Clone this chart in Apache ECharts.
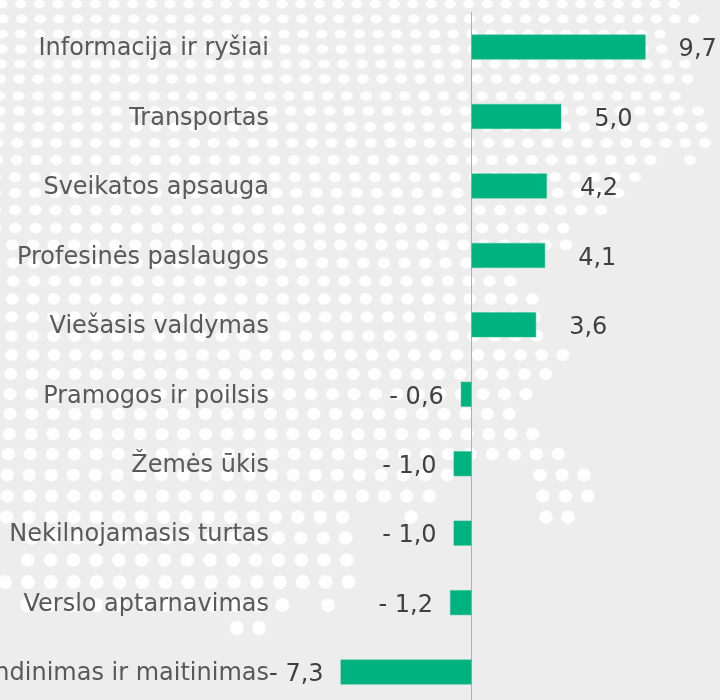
<!DOCTYPE html>
<html>
<head>
<meta charset="utf-8">
<style>
html, body { margin: 0; padding: 0; background: #ededed; }
#container { width: 720px; height: 700px; }
</style>
<script src="https://cdn.jsdelivr.net/npm/echarts@6/dist/echarts.min.js"></script>
</head>
<body>
<div id="container"></div>
<script>
var categories = ['Informacija ir ryšiai', 'Transportas', 'Sveikatos apsauga', 'Profesinės paslaugos', 'Viešasis valdymas', 'Pramogos ir poilsis', 'Žemės ūkis', 'Nekilnojamasis turtas', 'Verslo aptarnavimas', 'Apgyvendinimas ir maitinimas'];
var values = [9.7, 5.0, 4.2, 4.1, 3.6, -0.6, -1.0, -1.0, -1.2, -7.3];

// fono taskai (dekoracija): y, pirmas x, zingsnis, paskutinis x
var dotRows = [
    [4, 2, 18.67, 692], [19, 3, 18.67, 695], [34, 2, 18.8, 662], [49, 2, 18.85, 665],
    [64, 1, 19, 688], [79, 0, 19.1, 690], [96, -0.5, 19.3, 675], [111, -0.3, 19.4, 716],
    [127, -0.5, 19.5, 702], [143, -2.5, 19.65, 707], [160, -3, 19.8, 655], [160, 690, 20, 690],
    [177, -5, 20, 653], [193, -5, 20.1, 637], [210, -5, 20.2, 620], [228, -5, 20.3, 563],
    [245, -8, 20.5, 567], [263, -7.5, 20.6, 540], [281, -7.4, 20.7, 530], [299, -8.5, 20.8, 534],
    [317, -9.2, 20.9, 535], [336, -9.3, 21, 541], [355, -9.5, 21.2, 564], [374, -10.7, 21.4, 546],
    [394, -11.5, 21.5, 527], [414, -11.7, 21.7, 530], [434, -12.5, 21.8, 534], [454, -13.7, 22, 559],
    [475, -14.7, 22, 452], [475, 540, 22, 584], [496, -15, 22.2, 432], [496, 543, 22.4, 588],
    [517, -15.7, 22.4, 350], [517, 411, 22, 411], [517, 546, 22, 568], [538, 32, 22.4, 346],
    [560, 27.7, 22.8, 348], [582, 5, 22.9, 350], [605, 27, 23.2, 283], [605, 328, 23, 328],
    [628, 237, 22, 259]
];

function buildDots() {
    var dots = [];
    for (var i = 0; i < dotRows.length; i++) {
        var r = dotRows[i];
        var ry = 4.3 + r[0] / 220;
        var rx = 5.8 + r[0] / 550;
        for (var x = r[1]; x <= r[3] + 0.5; x += r[2]) {
            dots.push({
                type: 'ellipse',
                silent: true,
                z: -1,
                shape: { cx: x, cy: r[0], rx: rx, ry: ry },
                style: { fill: '#ffffff', opacity: 0.9 }
            });
        }
    }
    return dots;
}

function labelText(v) {
    var s = Math.abs(v).toFixed(1).replace('.', ',');
    return v < 0 ? '- ' + s : s;
}

var seriesdatas = [];
for (var i = 0; i < values.length; i++) {
    seriesdatas.push({
        value: values[i],
        label: { distance: values[i] < 0 ? 17 : 33 }
    });
}

var myChart = echarts.init(document.getElementById('container'));
var option = {
    backgroundColor: '#ededed',
    animation: false,
    graphic: { elements: buildDots() },
    grid: { left: 328, right: 69, top: 12.3, height: 694.5, containLabel: false, outerBoundsMode: 'none' },
    xAxis: {
        type: 'value',
        min: -8,
        max: 10,
        interval: 2,
        show: false
    },
    yAxis: {
        type: 'category',
        inverse: true,
        data: categories,
        axisTick: { show: false },
        axisLine: { show: true, onZero: true, lineStyle: { color: '#b0b0b0', width: 1 } },
        axisLabel: {
            margin: 59,
            formatter: '{a|{value}}',
            rich: {
                a: {
                    fontFamily: 'DejaVu Sans',
                    fontSize: 24,
                    color: '#595959',
                    padding: [4, 0, 0, 0]
                }
            }
        }
    },
    series: [
        {
            type: 'bar',
            data: seriesdatas,
            barWidth: 25,
            itemStyle: { color: '#00b27f', borderColor: '#3cc49d', borderWidth: 0.5 },
            label: {
                show: true,
                position: 'outside',
                offset: [0, 3],
                fontFamily: 'DejaVu Sans',
                fontSize: 24,
                color: '#404040',
                formatter: function (p) { return labelText(p.value); }
            }
        }
    ]
};
myChart.setOption(option, true);
</script>
</body>
</html>
